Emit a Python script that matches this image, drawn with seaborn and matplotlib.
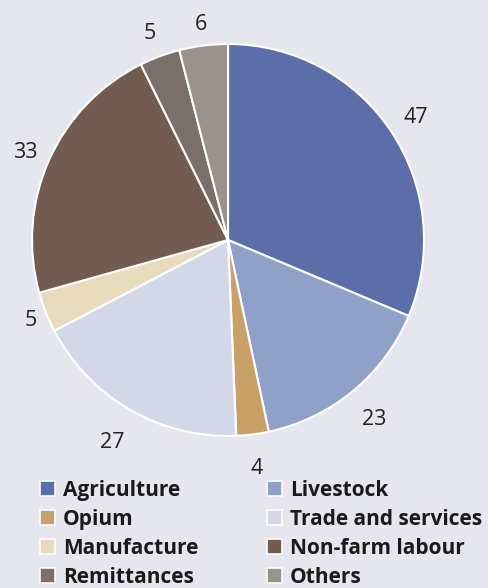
import matplotlib
matplotlib.use("Agg")
import numpy as np
import matplotlib.pyplot as plt
import seaborn as sns
from matplotlib.patches import Patch

# ---------- Data ----------

categories = ["Agriculture", "Livestock", "Opium", "Trade and services",
              "Manufacture", "Non-farm labour", "Remittances", "Others"]
values = [47, 23, 4, 27, 5, 33, 5, 6]
colors = ["#5c6ea9", "#8fa1c9", "#c9a168", "#d3d8e9",
          "#e8dbbd", "#725b50", "#7b6f69", "#9b928b"]

# label distance from centre (in radii), the source places them by hand
label_r = [1.15, 1.17, 1.16, 1.18, 1.08, 1.13, 1.14, 1.12]

# ---------- Plot ----------

sns.set_theme(style="white")
plt.rcParams["font.family"] = ["Open Sans", "DejaVu Sans"]
bg = "#e6e6ee"

fig = plt.figure(figsize=(4.88, 5.88), dpi=100, facecolor=bg)
ax = fig.add_axes([0.0656, 0.2585, 0.8033, 0.6667])
ax.set_facecolor(bg)

palette = sns.color_palette(colors)
wedges, texts = ax.pie(values, labels=[str(v) for v in values], colors=palette,
                       startangle=90, counterclock=False, radius=1,
                       wedgeprops=dict(edgecolor="white", linewidth=1.5),
                       textprops=dict(fontsize=15.5, color="#222222"))
for w, t, r in zip(wedges, texts, label_r):
    ang = np.deg2rad((w.theta1 + w.theta2) / 2)
    t.set_position((r * np.cos(ang), r * np.sin(ang)))
    t.set_ha("center")
    t.set_va("center_baseline")
ax.set_xlim(-1, 1)
ax.set_ylim(-1, 1)
ax.set_aspect("equal")
ax.axis("off")

# legend is filled row by row in the reference, matplotlib goes column by column
order = [0, 2, 4, 6, 1, 3, 5, 7]
handles = [Patch(facecolor=colors[i], edgecolor="white", linewidth=1.2) for i in order]
labels = [categories[i] for i in order]
leg = fig.legend(handles, labels, ncol=2, loc="upper left",
                 bbox_to_anchor=(0.082, 0.184), frameon=False,
                 handlelength=0.7, handleheight=0.7, handletextpad=0.4,
                 columnspacing=3.3, labelspacing=0.38, borderpad=0, borderaxespad=0,
                 prop=dict(size=15, weight="bold"))
for t in leg.get_texts():
    t.set_color("#1a1a1a")

fig.savefig("out.png", dpi=100, facecolor=bg)
